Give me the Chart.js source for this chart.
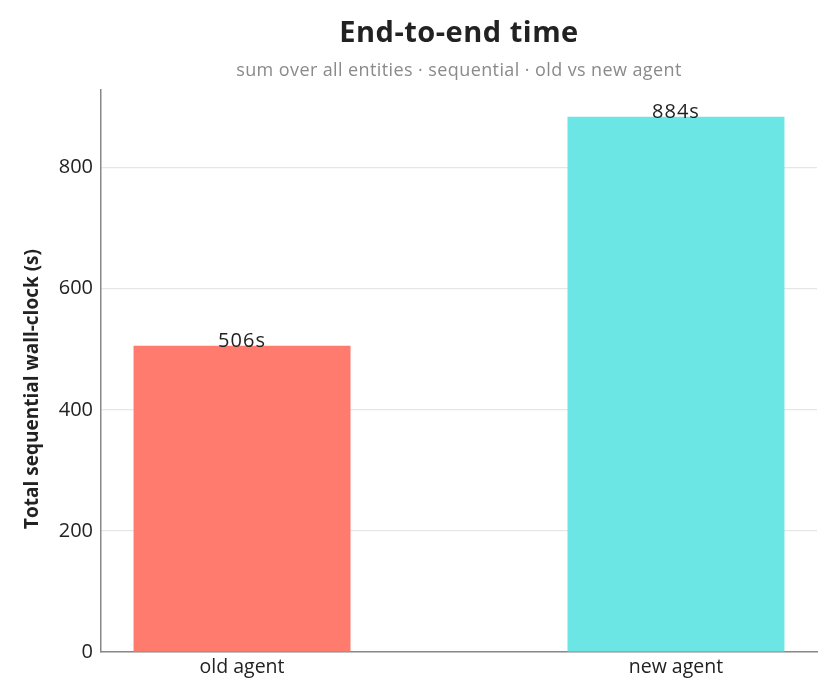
<!DOCTYPE html>
<html>
<head>
<meta charset="utf-8">
<script src="https://cdn.jsdelivr.net/npm/chart.js@4.4.1/dist/chart.umd.min.js"></script>
<style>
  html, body { margin: 0; padding: 0; background: #fff; }
  #wrap { width: 840px; height: 700px; }
</style>
</head>
<body>
<div id="wrap"><canvas id="chart"></canvas></div>
<script>
const categories = ['old agent', 'new agent'];
const totals = [506, 884];
const barColors = ['#FF7B6E', '#6BE6E4'];
const yTicks = [0, 200, 400, 600, 800];

const titleText = 'End-to-end time';
const subtitleText = 'sum over all entities · sequential · old vs new agent';
const yTitleText = 'Total sequential wall-clock (s)';
const FONT = '"Open Sans", Lato, sans-serif';

// title, subtitle and y-axis title, placed like the reference
const headerPlugin = {
  id: 'header',
  afterDraw(chart) {
    const { ctx, chartArea } = chart;
    const cx = (chartArea.left + chartArea.right) / 2;
    ctx.save();
    ctx.textAlign = 'center';
    ctx.textBaseline = 'middle';
    ctx.fillStyle = '#222';
    ctx.font = 'bold 29px ' + FONT;
    ctx.letterSpacing = '0.5px';
    ctx.fillText(titleText, cx, 34);
    ctx.fillStyle = '#8a8a8a';
    ctx.font = '18px ' + FONT;
    ctx.letterSpacing = '0.4px';
    ctx.fillText(subtitleText, cx, 71);

    ctx.translate(33, (chartArea.top + chartArea.bottom) / 2 + 18);
    ctx.rotate(-Math.PI / 2);
    ctx.fillStyle = '#222';
    ctx.font = 'bold 19px ' + FONT;
    ctx.letterSpacing = '0px';
    ctx.fillText(yTitleText, 0, 0);
    ctx.restore();
  }
};

// "506s" style labels sitting on the bar tops
const valueLabels = {
  id: 'valueLabels',
  afterDatasetsDraw(chart) {
    const { ctx } = chart;
    const meta = chart.getDatasetMeta(0);
    ctx.save();
    ctx.textAlign = 'center';
    ctx.textBaseline = 'alphabetic';
    ctx.fillStyle = '#222';
    ctx.font = '20px ' + FONT;
    ctx.letterSpacing = '1px';
    meta.data.forEach((bar, i) => {
      ctx.fillText(totals[i] + 's', bar.x, bar.y + 1);
    });
    ctx.restore();
  }
};

new Chart(document.getElementById('chart'), {
  type: 'bar',
  data: {
    datasets: [{
      data: totals.map((v, i) => ({ x: i, y: v })),
      backgroundColor: barColors,
      borderWidth: 0,
      barPercentage: 0.5,
      categoryPercentage: 1
    }]
  },
  options: {
    responsive: true,
    maintainAspectRatio: false,
    animation: false,
    layout: { padding: { top: 90, right: 23, left: 0, bottom: 0 } },
    plugins: {
      legend: { display: false },
      tooltip: { enabled: false },
      title: { display: false }
    },
    scales: {
      x: {
        type: 'linear',
        offset: false,
        min: -0.325,
        max: 1.325,
        afterBuildTicks: (s) => { s.ticks = categories.map((_, i) => ({ value: i })); },
        afterFit: (s) => { s.height = 48; },
        ticks: {
          callback: (v) => categories[v],
          color: '#222',
          font: { family: FONT, size: 19.5 },
          padding: 4
        },
        grid: { display: false, drawTicks: false, offset: false },
        border: { color: '#888', width: 1.5 }
      },
      y: {
        min: 0,
        max: 928.2,
        afterBuildTicks: (s) => { s.ticks = yTicks.map(v => ({ value: v })); },
        afterFit: (s) => { s.width = 101; },
        ticks: {
          color: '#222',
          font: { family: FONT, size: 20 },
          padding: 8
        },
        grid: { color: '#e6e6e6', lineWidth: 1.2, drawTicks: false },
        border: { color: '#888', width: 1.5 }
      }
    }
  },
  plugins: [headerPlugin, valueLabels]
});
</script>
</body>
</html>
